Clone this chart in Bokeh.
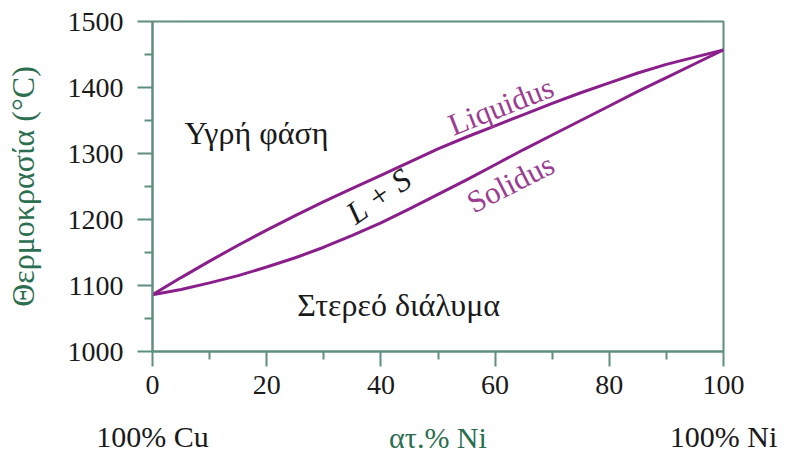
import math
from bokeh.plotting import figure
from bokeh.models import Range1d, FixedTicker, Label, LinearAxis
from bokeh.embed import file_html
from bokeh.resources import INLINE

# ---- data ----
ni_pct = [0, 5, 10, 15, 20, 25, 30, 35, 40, 45, 50, 55, 60, 65, 70, 75, 80, 85, 90, 95, 100]
liquidus = [1086, 1112, 1137, 1161, 1184, 1206, 1227, 1247, 1267, 1287, 1307,
            1325, 1342, 1359, 1376, 1392, 1407, 1422, 1435, 1446, 1457]
solidus = [1086, 1094, 1104, 1115, 1128, 1142, 1158, 1176, 1195, 1216, 1238,
           1260, 1283, 1306, 1328, 1350, 1372, 1394, 1415, 1436, 1457]

x_major = [0, 20, 40, 60, 80, 100]
x_minor = [10, 30, 50, 70, 90]
y_major = [1000, 1100, 1200, 1300, 1400, 1500]
y_minor = [1050, 1150, 1250, 1350, 1450]
end_ticks = [0, 100]
end_labels = {0: "100% Cu", 100: "100% Ni"}

AXIS_COL = "#5f8f7f"
GREEN = "#2b6e50"
PURPLE = "#8a1f8c"
PURPLE_TXT = "#9b3d91"
FONT = "Liberation Serif"

p = figure(width=787, height=456, output_backend="svg", toolbar_location=None,
           x_range=Range1d(0, 100), y_range=Range1d(1000, 1500),
           min_border_left=152, min_border_right=64, min_border_top=21,
           min_border_bottom=104)
p.grid.visible = False
p.outline_line_color = AXIS_COL
p.outline_line_width = 2
p.background_fill_color = "white"
p.border_fill_color = "white"

for ax, maj, mnr in ((p.xaxis[0], x_major, x_minor), (p.yaxis[0], y_major, y_minor)):
    ax.ticker = FixedTicker(ticks=maj, minor_ticks=mnr)
    ax.axis_line_color = AXIS_COL
    ax.axis_line_width = 2
    ax.major_tick_line_color = AXIS_COL
    ax.major_tick_line_width = 2
    ax.minor_tick_line_color = AXIS_COL
    ax.minor_tick_line_width = 2
    ax.major_tick_in = 0
    ax.major_tick_out = 15
    ax.minor_tick_in = 0
    ax.minor_tick_out = 8
    ax.major_label_text_font = FONT
    ax.major_label_text_font_size = "28px"
    ax.major_label_text_color = "#1a1a1a"

p.yaxis.major_label_standoff = 14
p.yaxis.axis_label = "Θερμοκρασία (°C)"
p.yaxis.axis_label_text_font = FONT
p.yaxis.axis_label_text_font_size = "32px"
p.yaxis.axis_label_text_font_style = "normal"
p.yaxis.axis_label_text_color = GREEN
p.yaxis.axis_label_standoff = 24

p.xaxis.major_label_standoff = 9

# second bottom axis carrying the end-member labels and the axis title
ax2 = LinearAxis(ticker=FixedTicker(ticks=end_ticks, minor_ticks=[]),
                 major_label_overrides=end_labels,
                 axis_line_color=None, major_tick_line_color=None,
                 minor_tick_line_color=None, major_tick_in=0, major_tick_out=0,
                 major_label_standoff=23,
                 major_label_text_font=FONT, major_label_text_font_size="30px",
                 major_label_text_color="#1a1a1a",
                 axis_label="ατ.% Ni", axis_label_text_font=FONT,
                 axis_label_text_font_size="30px", axis_label_text_font_style="normal",
                 axis_label_text_color=GREEN, axis_label_standoff=-35)
p.add_layout(ax2, "below")

p.line(ni_pct, liquidus, line_color=PURPLE, line_width=3)
p.line(ni_pct, solidus, line_color=PURPLE, line_width=3)


def lab(x, y, text, size, color="#1a1a1a", angle=0.0, style="normal"):
    p.add_layout(Label(x=x, y=y, text=text, text_font=FONT, text_font_size=size,
                       text_color=color, text_align="center", text_baseline="middle",
                       angle=angle, text_font_style=style))


lab(18.2, 1331, "Υγρή φάση", "32px")
lab(43.1, 1071, "Στερεό διάλυμα", "32px")
lab(61.0, 1372, "Liquidus", "31px", PURPLE_TXT, math.radians(21.5))
lab(62.7, 1255, "Solidus", "31px", PURPLE_TXT, math.radians(27))
lab(39.6, 1236, "L + S", "32px", "#1a1a1a", math.radians(35), "italic")

open("out.html", "w").write(file_html(p, INLINE))
